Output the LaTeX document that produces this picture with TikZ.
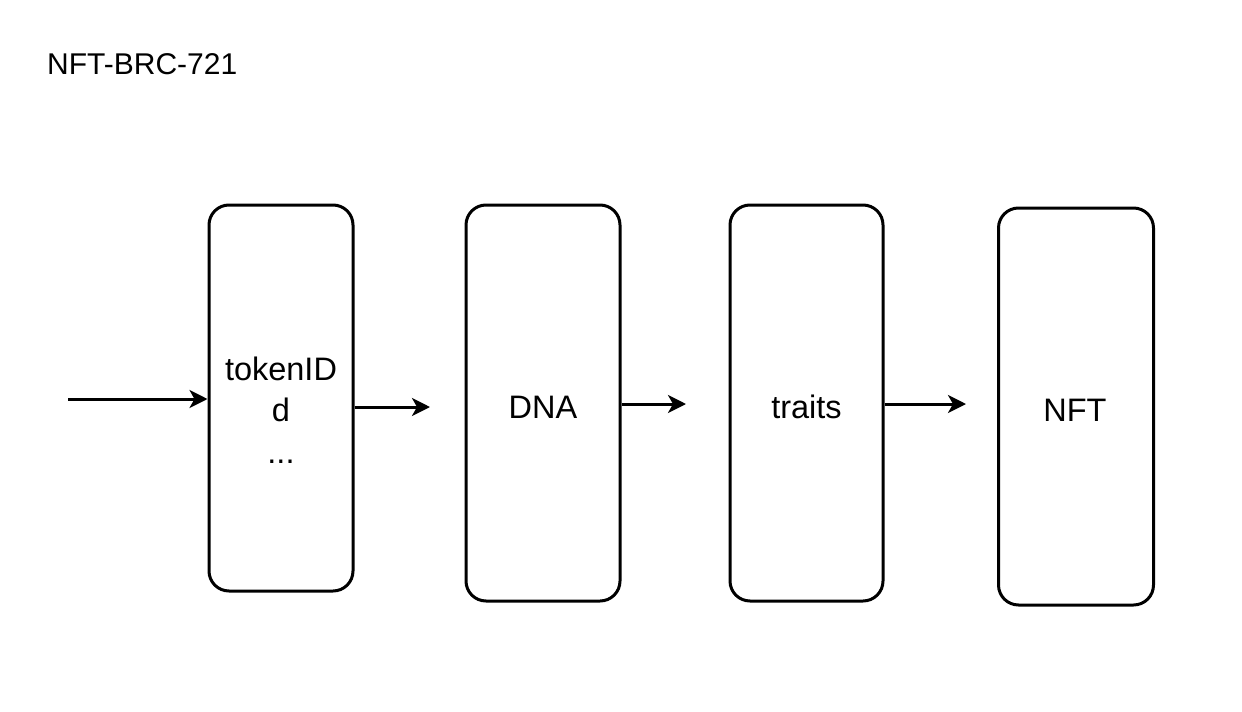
\documentclass[tikz,border=0pt]{standalone}
\usepackage{fontspec}
\setmainfont{Liberation Sans}
\usetikzlibrary{arrows.meta}
\begin{document}
\begin{tikzpicture}[x=1pt,y=-1pt,
  blk/.style={draw=black,line width=3pt,rounded corners=20pt,inner sep=0pt},
  lbl/.style={font=\fontsize{32.5}{41.5}\selectfont,align=center,inner sep=0pt},
  arr/.style={line width=3pt,-{Stealth[length=18pt,width=18pt,inset=5pt]}}]
\useasboundingbox (0,0) rectangle (1242,712);
\node[anchor=west,font=\fontsize{30}{36}\selectfont,inner sep=0pt] (title) at (47,64) {NFT-BRC-721};
\node[blk,minimum width=144pt,minimum height=386pt] (b1) at (281,398) {};
\node[blk,minimum width=154pt,minimum height=396pt] (b2) at (543,403) {};
\node[blk,minimum width=153pt,minimum height=396pt] (b3) at (806.5,403) {};
\node[blk,minimum width=155pt,minimum height=397pt] (b4) at (1076,406.5) {};
\node[lbl] (t1) at (281,410) {tokenID\\d\\...};
\node[lbl] (t2) at (543,407) {DNA};
\node[lbl] (t3) at (806.5,407) {traits};
\node[lbl] (t4) at (1075,410) {NFT};
\coordinate (s0) at (68,399);
\coordinate (e1) at (430,407);
\coordinate (e2) at (686,404);
\coordinate (e3) at (966,404);
\draw[arr] (s0) -- (b1.west |- s0);
\draw[arr] (b1.east |- e1) -- (e1);
\draw[arr] (b2.east |- e2) -- (e2);
\draw[arr] (b3.east |- e3) -- (e3);
\end{tikzpicture}
\end{document}
